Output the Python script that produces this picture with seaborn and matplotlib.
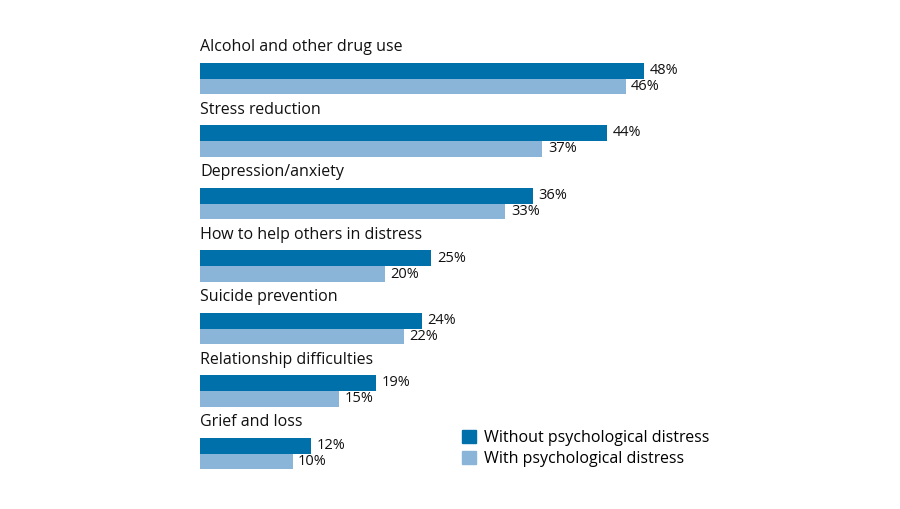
import pandas as pd
import seaborn as sns
import matplotlib.pyplot as plt
from matplotlib.patches import Patch

plt.rcParams['font.family'] = 'Open Sans'

categories = ['Alcohol and other drug use', 'Stress reduction', 'Depression/anxiety',
              'How to help others in distress', 'Suicide prevention',
              'Relationship difficulties', 'Grief and loss']
without_distress = [48, 44, 36, 25, 24, 19, 12]
with_distress = [46, 37, 33, 20, 22, 15, 10]
groups = ['Without psychological distress', 'With psychological distress']
colors = ['#0070aa', '#8ab4d8']

df = pd.DataFrame({
    'topic': categories * 2,
    'pct': without_distress + with_distress,
    'group': [groups[0]] * 7 + [groups[1]] * 7,
})

fig = plt.figure(figsize=(9, 5.09), dpi=100)
ax = fig.add_axes([0, 0, 1, 1])
sns.barplot(df, y='topic', x='pct', hue='group', palette=colors, orient='h',
            width=0.5, dodge=True, ax=ax, legend=False, saturation=1)

px = 9.25
ax.set_xlim(-200 / px, 700 / px)
ax.set_ylim(509 / 62.5 - 1.256, -1.256)
ax.axis('off')

for i, cat in enumerate(categories):
    ax.text(0, i - 0.5, cat, fontsize=11.5, va='center', ha='left', color='#111111')
    ax.text(without_distress[i] + 0.6, i - 0.128, f'{without_distress[i]}%', fontsize=10.5,
            va='center', ha='left', color='#111111')
    ax.text(with_distress[i] + 0.6, i + 0.128, f'{with_distress[i]}%', fontsize=10.5,
            va='center', ha='left', color='#111111')

handles = [Patch(color=c) for c in colors]
fig.legend(handles, groups, loc='upper left', bbox_to_anchor=(448 / 900, 1 - 416 / 509),
           frameon=False, fontsize=11.5, handlelength=0.85, handleheight=0.85,
           handletextpad=0.5, labelspacing=0.3)

fig.savefig('out.png', dpi=100, facecolor='white')
